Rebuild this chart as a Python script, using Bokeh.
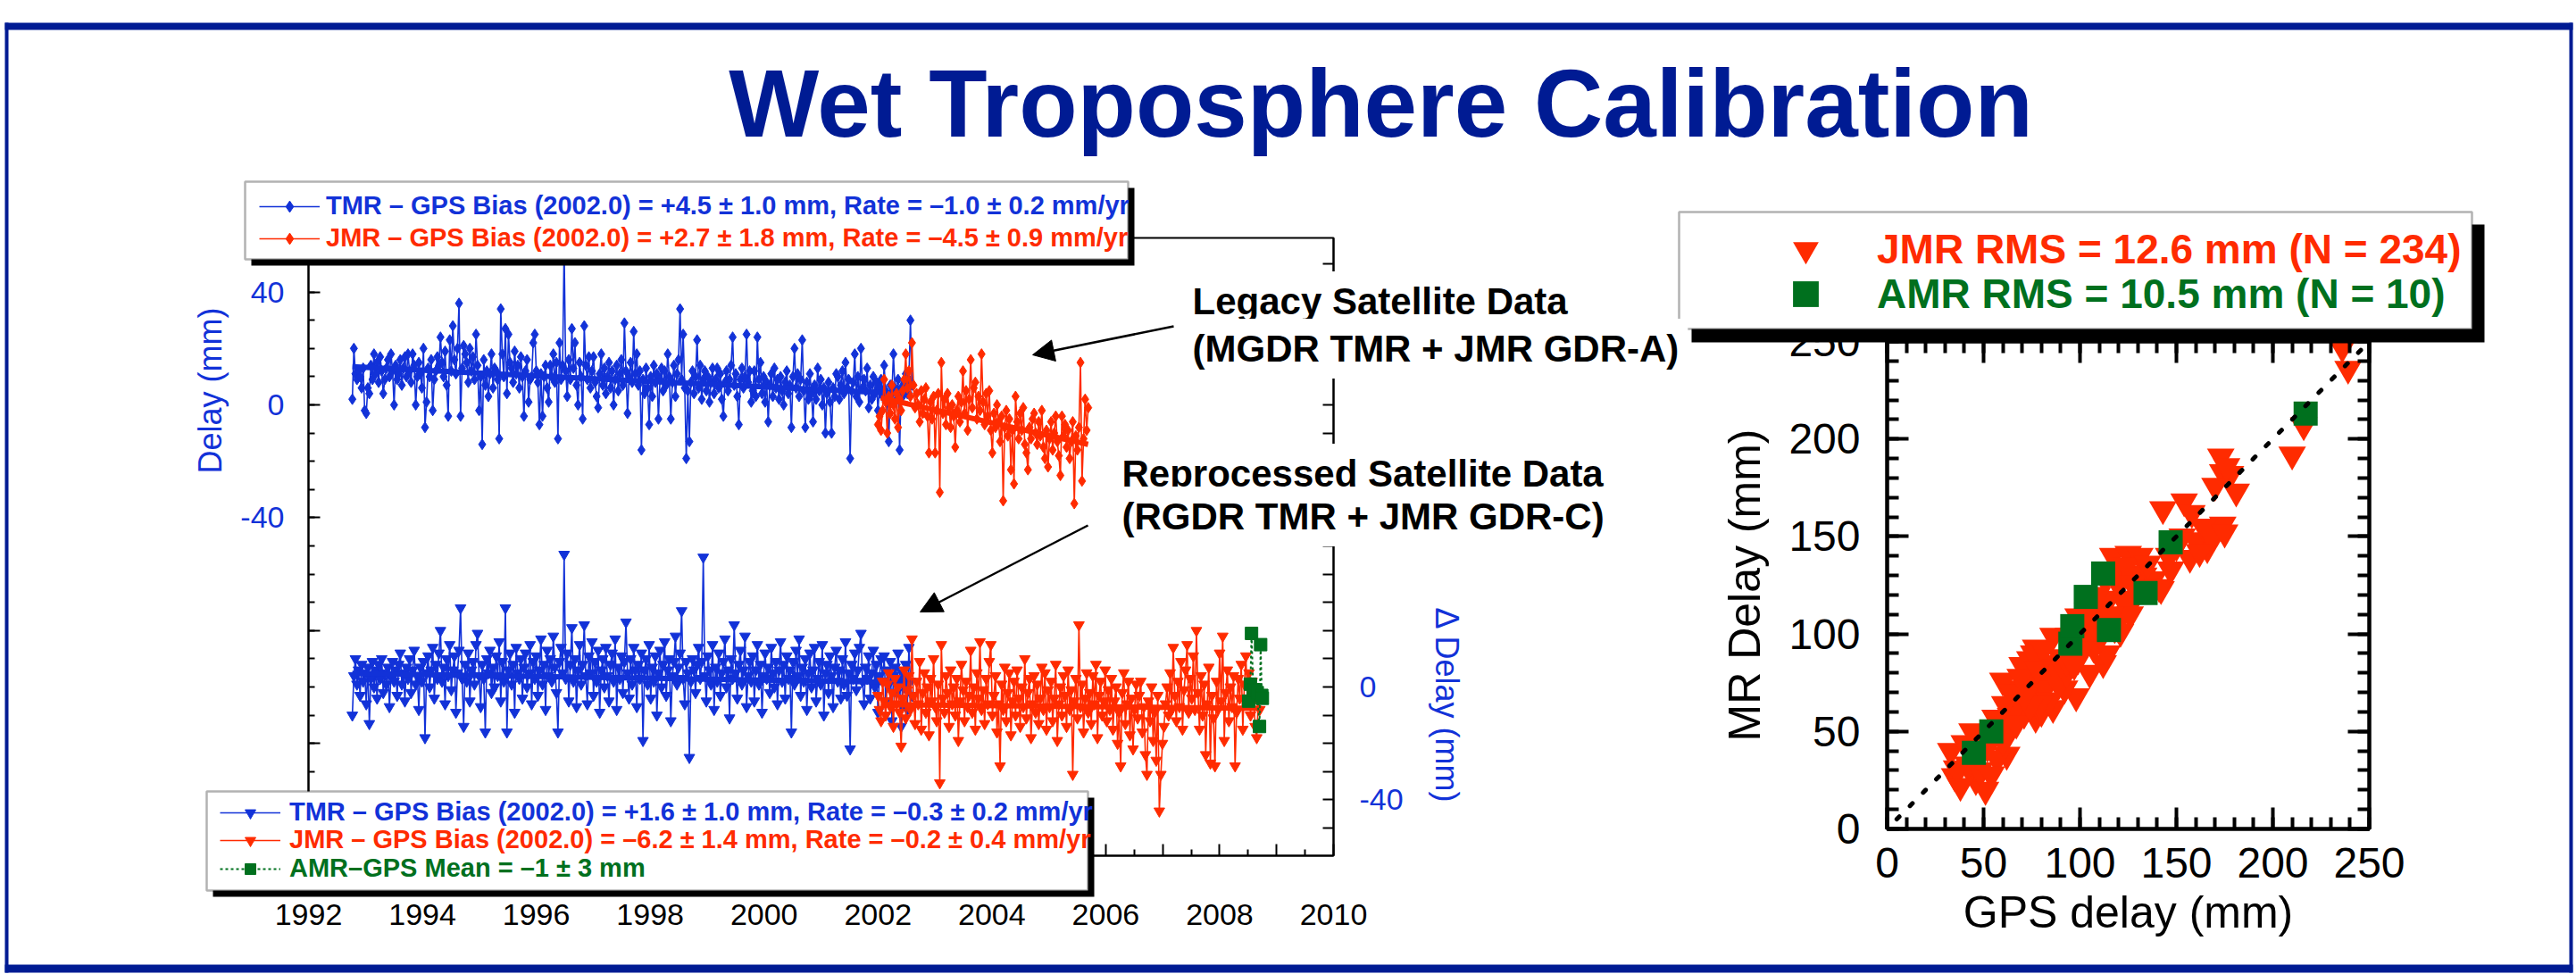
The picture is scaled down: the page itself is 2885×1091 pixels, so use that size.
import math
from bokeh.plotting import figure
from bokeh.models import (Range1d, LinearAxis, FixedTicker, Label, Legend, LegendItem,
                          BoxAnnotation, Arrow, NormalHead, GridBox, Plot)
from bokeh.embed import file_html
from bokeh.resources import INLINE

# ---------------- data ----------------
CYCLE_YR = 9.9156 / 365.25          # altimeter repeat cycle, in years
TMR_START = 1992.77
JMR_START = 2002.0

# TMR - GPS, legacy data (mm)
tmr_up = [2, 20, 11, 9, 12, 10, 6, 13, -2, -3, 6, 4, 14, 9, 18, 11, 15, 8, 17, 12, 4, 9, 13, 16, 10, 18, 12, 0, 14, 9, 11, 16, 7, 13, 17, 10, 18,
          12, 8, 18, 14, 0, 10, 15, 11, 6, 20, -8, 1, 13, 10, 16, -2, 9, 12, 17, 14, 24, 15, 10, 19, 7, -4, 23, 12, 28, 16, 11, 20, 36, -4, 13, 21, 18,
          15, 8, 20, 12, 17, 9, 25, 14, -2, 10, -14, 16, 7, 12, 3, 11, 18, 6, 13, 12, 9, -12, 34, 18, 10, 27, 4, 25, 15, 13, 8, 19, 11, 14, 6, 17, 10,
          -4, 12, 16, 1, 9, 10, 22, 25, 12, 8, -7, 11, -4, 10, 14, 6, 1, 14, 10, 18, 8, 15, -12, 22, 9, 14, 56, 12, 3, 16, 9, 27, 13, 22, 7, 0, 15,
          10, -5, 28, 14, 9, 17, 6, 12, 17, 8, 3, -1, 11, 18, 7, 13, 4, 10, 15, 6, 12, 0, 9, 14, 5, 11, 16, 7, 29, 12, -3, 10, 15, 8, 26, 11, 18,
          7, 12, -16, 9, 4, 13, 6, -7, 10, 3, 14, 8, 11, -5, 9, 13, 5, 12, 7, 18, 10, -5, 8, 14, 3, 11, 16, 34, 9, 25, 6, -19, 5, -13, 8, 12, 4,
          10, 23, 6, 14, 2, 9, 12, 5, 10, 1, 8, 13, 4, 9, 13, 6, 11, 2, -4, 8, 12, 5, 9, 14, 24, 7, 11, 3, -7, 9, 13, 6, 10, 25, 8, 12, 1,
          5, 12, 3, 24, 9, 15, 4, 10, 1, 8, -6, 7, 11, 3, 13, 6, 9, 2, 10, 5, 0, 8, 12, 4, 7, -8, 10, 20, 6, 11, 3, 9, 23, 5, -8, 8, 2,
          11, 4, -6, 7, 2, 13, 5, 9, 0, 6, -10, 4, 8, 1, -10, 6, 3, 11, 10, 2, 7, 12, 4, 15, 6, 9, -19, 5, 8, 18, 3, 10, 1, 20, 6, 9,
          5, 13, -1, 7, 2, 10, 4, 8, -2, 6, 9, 3, 14, 5, 1, -13, 7, 4, 18, 6, 2, 9, -16, 6, 3, 8, 11, 4, 9, 30, 7]

# JMR - GPS, legacy data (mm)
jmr_up = [-7, -4, -9, -2, 9, 1, -10, 3, -3, 7, 0, -5, 4, -8, 2, -2, 5, 9, 18, 6,
          12, 3, 22, 7, -1, 4, 0, -6, 5, -3, 2, 6, -4, -17, 1, -5, 3, -17, -2, 4,
          -31, 15, -3, 2, -7, 4, -1, -8, 0, -4, -15, -2, 3, -6, 1, 12, -3, 5, -9, 2,
          16, -1, 6, 8, -5, 3, -2, 18, 1, -7, 4, -4, 5, -9, -17, -3, -8, 0, -6, -13,
          -4, -34, -8, -2, -11, -5, -23, -9, -28, 3, -6, -12, -3, -9, -1, -14, -17, -23, -8, -12,
          -5, -3, -10, -14, -6, -11, -2, -15, -19, -9, -22, -12, -6, -16, -10, -4, -13, -18, -25, -4,
          -11, -7, -15, -9, -19, -13, -6, -35, -11, -16, -8, 15, -27, -12, 2, -9, -1]

# TMR - GPS, reprocessed data (mm, right axis)
tmr_lo = [-10, 4, 10, 1, 6, -3, 8, 2, 5, -6, 7, -13, 3, 9, 0, 6, -4, 8, 3, 10, -2, 5, 1, 7, -7, 4, 9, 2, 6, -3, 8, 12, 1, 5, -5, 7, 3,
          10, -2, 6, 13, 1, 4, -8, 7, 2, 9, -18, 5, 11, 0, 6, 14, -4, 8, 3, 12, 20, 2, 7, -6, 10, 4, 15, -1, 6, 11, -9, 5, 13, 28, 3, -14, 8,
          2, 12, -5, 6, 9, 1, 15, 19, 4, -7, 8, 3, -16, 10, 5, 13, -2, 7, 0, 11, 4, 16, -5, 9, 2, 28, -16, 6, 12, 1, 8, -9, 14, 5, 3, 10, -4,
          7, 12, 0, 5, 15, -6, 9, 3, 11, -3, 6, 17, 1, 8, -8, 13, 4, 10, 2, 18, 7, -2, -16, 9, 14, 5, 47, 3, 12, -5, 8, 21, 2, 10, -7, 6, 15,
          1, 8, 22, 4, -6, 11, 5, 16, -3, 9, 2, 13, -9, 6, 10, 0, 14, 4, -5, 8, 12, 2, 17, -8, 7, 3, 11, -2, 9, 23, 5, -4, 10, 1, 14, 6, -7,
          8, 3, 12, -19, 6, 10, 1, 15, -4, 7, 2, 11, -10, 5, 13, 0, 8, 16, -3, 6, 10, -12, 4, 9, 18, 1, 7, 12, 27, 3, -6, 9, 5, -25, 2, 10, 6,
          -2, 8, 14, 3, 9, 46, 4, -5, 11, 6, 1, 15, -8, 7, 2, 12, -3, 5, 9, 17, 0, 6, -11, 10, 3, 22, 5, -4, 8, 13, 1, 6, 18, -7, 4, 9, 2,
          11, -5, 6, 15, 1, 8, -9, 4, 12, 3, 7, -2, 14, 5, 0, 9, -6, 6, 16, 2, 8, -4, 11, 3, 6, -16, 9, 1, 13, 4, 17, -3, 7, 2, 10, -8, 5,
          12, 0, 6, 14, -5, 3, 9, 1, 15, -10, 5, 8, -2, 11, 4, -7, 7, 13, 2, 6, -4, 10, 1, 16, -3, 5, -22, 8, 3, 12, -1, 6, 14, 19, 2, -6,
          7, 3, 11, -4, 5, 13, 0, 8, -9, 4, 10, 2, 11, -5, 6, 1, 9, -12, 4, 7, -2, 12, 3, -14, 5, 0, 8, -8, 14, 2, -3]

# JMR - GPS, reprocessed data (mm, right axis)
jmr_lo = [-3, -8, -12, 2, -5, -10, 1, 5, -7, -2, -14, 3, -6, 0, -9, -21, -4, 6, -11, -1, 4, -8, 17, -3, -13, 2, -6, 9, -15, -2, 5, -9, 0, -17, 3, -5, 10,
          -7, -12, 1, -34, 15, -4, -9, 4, -2, -14, 6, -6, 0, -10, 3, -19, -5, 8, -1, -12, 2, -7, -3, 13, -9, 0, -15, 5, -4, 16, -8, -1, -13, 3, -6, 9, 15,
          -10, -3, 4, -16, -6, -28, 1, -8, 7, -12, -2, 5, -17, -5, 2, -10, 6, -4, -14, 0, -7, 10, -11, -2, 3, -18, -6, 4, -9, 1, -13, -4, 7, -8, 5, -15, -1,
          -7, 2, -12, -4, 8, -19, -6, 0, -10, 4, -3, -14, 6, -8, -1, -31, -5, 3, -11, 22, -7, 1, -16, -4, 5, -9, -2, -13, 4, -6, 8, -18, -3, 2, -10, -5, 6,
          -12, -1, -8, 3, -15, -5, 0, -20, -9, -28, -2, 5, -13, -6, 2, -17, -4, -22, -8, 1, -11, -3, 2, -16, -7, -24, -31, -5, -12, 0, -19, -9, -26, -3, -44, -31, -20,
          -14, -6, 0, -10, 5, -8, 14, -3, -12, 2, -7, 9, -15, -1, 6, 15, -9, 3, -4, 11, -8, 20, -2, -15, 4, -10, 1, -24, -6, 7, -27, -3, -11, -28, 2, -8, 12,
          -5, 18, -19, -2, 6, -12, 0, -7, 4, -28, -9, 3, -4, 8, -15, 1, 11, -6, 5, -10, 2, -3, -14, -18, -5, -8]

# AMR - GPS (mm, right axis)
amr_x = [2008.51, 2008.54, 2008.56, 2008.59, 2008.62, 2008.66, 2008.70, 2008.72, 2008.74, 2008.75]
amr_d = [-5, 1, 19, -1, -1, -2, -14, 15, -3, -4]

# fitted trend lines (end points)
tmr_up_trend_x = [1992.77, 2002.60]
tmr_up_trend_y = [13.5, 3.8]
jmr_up_trend_x = [2002.05, 2005.69]
jmr_up_trend_y = [2.5, -14.0]
tmr_lo_trend_x = [1992.77, 2002.55]
tmr_lo_trend_y = [4.8, 1.6]
jmr_lo_trend_x = [2002.05, 2008.74]
jmr_lo_trend_y = [-6.2, -7.6]

# scatter: MR delay vs GPS delay (mm)
jmr_gps = [35, 33, 46, 51, 62, 63, 56, 42, 38, 40,
           48, 44, 52, 57, 36, 60, 54, 47, 58, 50,
           63, 77, 71, 80, 86, 98, 92, 85, 74, 77,
           86, 66, 60, 80, 73, 68, 72, 78, 82, 75,
           70, 65, 83, 88, 90, 84, 79, 69, 76, 81,
           87, 64, 67, 61, 89, 93, 95, 74, 71, 78,
           99, 112, 114, 105, 118, 120, 128, 99, 93, 105,
           117, 125, 131, 128, 134, 142, 110, 108, 102, 115,
           120, 123, 126, 130, 107, 111, 96, 100, 104, 113,
           119, 116, 124, 133, 138, 101, 97, 94, 109, 121,
           127, 135, 143, 154, 158, 171, 174, 166, 157, 153,
           147, 141, 146, 150, 160, 164, 168, 175, 162, 173,
           174, 181, 178, 170, 176, 210, 216, 236, 239]
jmr_mr = [27, 40, 25, 20, 38, 49, 57, 33, 22, 44,
          30, 50, 42, 36, 31, 45, 28, 38, 52, 46,
          72, 57, 59, 60, 62, 68, 72, 80, 87, 93,
          99, 62, 76, 77, 69, 66, 74, 70, 72, 80,
          84, 70, 85, 78, 88, 66, 64, 78, 90, 92,
          83, 58, 54, 64, 74, 80, 86, 63, 68, 82,
          87, 85, 90, 97, 103, 109, 118, 109, 86, 80,
          140, 141, 140, 131, 124, 123, 112, 105, 100, 118,
          125, 116, 110, 122, 93, 99, 96, 104, 112, 128,
          132, 110, 135, 130, 128, 92, 84, 99, 120, 101,
          126, 136, 164, 168, 162, 153, 156, 144, 139, 150,
          133, 124, 140, 145, 148, 155, 150, 152, 142, 191,
          183, 173, 182, 176, 186, 192, 207, 247, 236]
amr_gps = [45, 54, 95, 96, 103, 112, 115, 134, 147, 217]
amr_mr = [39, 50, 95, 104, 119, 131, 102, 121, 147, 213]
one_to_one = [5, 246]

year_ticks = list(range(1992, 2011))

tmr_x = [TMR_START + i * CYCLE_YR for i in range(len(tmr_up))]
tmr_lo_x = [TMR_START + i * CYCLE_YR for i in range(len(tmr_lo))]
jmr_up_x = [JMR_START + i * CYCLE_YR for i in range(len(jmr_up))]
jmr_lo_x = [JMR_START + i * CYCLE_YR for i in range(len(jmr_lo))]

# ---------------- style ----------------
BLUE = "#1232d8"
RED = "#ff2b00"
GREEN = "#00701e"
NAVY = "#001b93"
FONT = "Liberation Sans"
W, H = 2885, 1091

FA = {"frame_align": False} if "frame_align" in Plot.properties() else {}
LABEL_HAS_PADDING = "padding" in Label.properties()

# ================= time-series chart (bottom layer) =================
FL, FR, FT, FB = 345, 1493, 266, 958
PX_PER_MM = 3.16
v_top = (453 - FT) / PX_PER_MM
v_bot = (453 - FB) / PX_PER_MM

lp = figure(width=W, height=H, x_range=Range1d(1992, 2010), y_range=Range1d(v_bot, v_top),
            toolbar_location=None, output_backend="svg",
            min_border_left=FL, min_border_right=W - FR,
            min_border_top=FT, min_border_bottom=H - FB,
            border_fill_color=None, background_fill_color="white", **FA)
lp.grid.visible = False
lp.outline_line_color = "black"
lp.outline_line_width = 2
lp.extra_y_ranges = {"delta": Range1d(v_bot + 100, v_top + 100)}

xa = lp.xaxis[0]
xa.ticker = FixedTicker(ticks=year_ticks, minor_ticks=[y + 0.5 for y in year_ticks[:-1]])
xa.major_label_overrides = {y: ("" if y % 2 else str(y)) for y in year_ticks}
xa.major_label_text_font = FONT
xa.major_label_text_font_size = "34px"
xa.major_label_text_color = "black"
xa.major_label_standoff = 54
xa.major_tick_in, xa.major_tick_out = 13, 0
xa.minor_tick_in, xa.minor_tick_out = 7, 0
xa.axis_line_width = xa.major_tick_line_width = xa.minor_tick_line_width = 2

ya = lp.yaxis[0]
ya.ticker = FixedTicker(ticks=[-120, -80, -40, 0, 40], minor_ticks=list(range(-150, 60, 10)))
ya.major_label_overrides = {-120: "", -80: "", -40: "-40", 0: "0", 40: "40"}
ya.major_label_text_font = FONT
ya.major_label_text_font_size = "34px"
ya.major_label_text_color = BLUE
ya.major_label_standoff = 27
ya.major_tick_in, ya.major_tick_out = 13, 0
ya.minor_tick_in, ya.minor_tick_out = 7, 0
ya.axis_line_width = ya.major_tick_line_width = ya.minor_tick_line_width = 2

d_ticks = list(range(-50, 160, 10))
ra = LinearAxis(y_range_name="delta", ticker=FixedTicker(ticks=d_ticks, minor_ticks=[]),
                major_label_overrides={t: (str(t) if t in (0, -40) else "") for t in d_ticks},
                major_label_text_font=FONT, major_label_text_font_size="34px",
                major_label_text_color=BLUE, major_label_standoff=29,
                major_tick_in=12, major_tick_out=0, minor_tick_in=0, minor_tick_out=0,
                axis_line_width=2, major_tick_line_width=2)
lp.add_layout(ra, "right")

# upper (legacy) series, left axis
lp.line(tmr_x, tmr_up, line_color=BLUE, line_width=1.6)
lp.scatter(tmr_x, tmr_up, marker="diamond", size=12, fill_color=BLUE, line_color=BLUE)
lp.line(tmr_up_trend_x, tmr_up_trend_y, line_color=BLUE, line_width=6)
lp.line(jmr_up_x, jmr_up, line_color=RED, line_width=1.6)
lp.scatter(jmr_up_x, jmr_up, marker="diamond", size=12, fill_color=RED, line_color=RED)
lp.line(jmr_up_trend_x, jmr_up_trend_y, line_color=RED, line_width=6)

# lower (reprocessed) series, right axis
lp.line(tmr_lo_x, tmr_lo, line_color=BLUE, line_width=1.6, y_range_name="delta")
lp.scatter(tmr_lo_x, tmr_lo, marker="inverted_triangle", size=12, fill_color=BLUE,
           line_color=BLUE, y_range_name="delta")
lp.line(tmr_lo_trend_x, tmr_lo_trend_y, line_color=BLUE, line_width=6, y_range_name="delta")
lp.line(jmr_lo_x, jmr_lo, line_color=RED, line_width=1.6, y_range_name="delta")
lp.scatter(jmr_lo_x, jmr_lo, marker="inverted_triangle", size=12, fill_color=RED,
           line_color=RED, y_range_name="delta")
lp.line(jmr_lo_trend_x, jmr_lo_trend_y, line_color=RED, line_width=6, y_range_name="delta")
lp.line(amr_x, amr_d, line_color=GREEN, line_width=2, line_dash="3 3", y_range_name="delta")
lp.scatter(amr_x, amr_d, marker="square", size=14, fill_color=GREEN, line_color=GREEN,
           y_range_name="delta")

# ================= scatter chart (middle layer) =================
SL, SR, ST, SB = 2113, 2653, 382, 928
rp = figure(width=W, height=H, x_range=Range1d(0, 250), y_range=Range1d(0, 250),
            toolbar_location=None, output_backend="svg",
            min_border_left=SL, min_border_right=W - SR,
            min_border_top=ST, min_border_bottom=H - SB,
            border_fill_color=None, background_fill_color="white", **FA)
rp.grid.visible = False
rp.outline_line_color = "black"
rp.outline_line_width = 4

s_major = [0, 50, 100, 150, 200, 250]
s_minor = list(range(0, 251, 10))


def style_scatter_axis(ax, labels=True):
    ax.ticker = FixedTicker(ticks=s_major, minor_ticks=s_minor)
    ax.major_tick_in, ax.major_tick_out = 24, 0
    ax.minor_tick_in, ax.minor_tick_out = 13, 0
    ax.axis_line_width = ax.major_tick_line_width = ax.minor_tick_line_width = 4
    ax.major_label_text_font = FONT
    ax.major_label_text_font_size = "48px"
    ax.major_label_text_color = "black"
    if not labels:
        ax.major_label_overrides = {t: "" for t in s_major}
        ax.major_label_text_font_size = "0px"
        ax.major_label_standoff = 0


style_scatter_axis(rp.xaxis[0])
rp.xaxis[0].major_label_standoff = 21
rp.xaxis[0].axis_label = "GPS delay (mm)"
rp.xaxis[0].axis_label_standoff = 8
style_scatter_axis(rp.yaxis[0])
rp.yaxis[0].major_label_standoff = 30
rp.yaxis[0].axis_label = "MR Delay (mm)"
rp.yaxis[0].axis_label_standoff = 18
for ax in (rp.xaxis[0], rp.yaxis[0]):
    ax.axis_label_text_font = FONT
    ax.axis_label_text_font_size = "50px"
    ax.axis_label_text_font_style = "normal"
    ax.axis_label_text_color = "black"
for side in ("right", "above"):
    extra = LinearAxis()
    style_scatter_axis(extra, labels=False)
    rp.add_layout(extra, side)

rp.scatter(jmr_gps, jmr_mr, marker="inverted_triangle", size=31, fill_color=RED, line_color=None)
rp.scatter(amr_gps, amr_mr, marker="square", size=27, fill_color=GREEN, line_color=None)
rp.line(one_to_one, one_to_one, line_color="black", line_width=5, line_dash="4 17", line_cap="round")

# ================= overlay: title, frame, legends, notes (top layer) =================
ov = figure(width=W, height=H, x_range=Range1d(0, 1), y_range=Range1d(0, 1),
            toolbar_location=None, output_backend="svg", min_border=0,
            x_axis_location=None, y_axis_location=None,
            border_fill_color=None, background_fill_color=None, **FA)
ov.grid.visible = False
ov.outline_line_color = None


def box(x0, x1, y0, y1, fill, line=None, lw=0):
    ov.add_layout(BoxAnnotation(left=x0, right=x1, top=H - y0, bottom=H - y1,
                                left_units="screen", right_units="screen",
                                top_units="screen", bottom_units="screen",
                                fill_color=fill, fill_alpha=1.0,
                                line_color=line, line_width=lw))


def note(X, Yc, text, size, color="black", bold=False, align="left", bg=None, pad=0, angle=0.0):
    kw = dict(x=X, y=H - Yc, x_units="screen", y_units="screen", text=text,
              text_font=FONT, text_font_size=size, text_color=color,
              text_font_style="bold" if bold else "normal",
              text_align=align, text_baseline="middle", angle=angle)
    if bg is not None:
        kw["background_fill_color"] = bg
        kw["background_fill_alpha"] = 1.0
        if LABEL_HAS_PADDING:
            kw["padding"] = pad
        else:
            kw["x"] = X + pad
    ov.add_layout(Label(**kw))


def legend_row(renderers, label, color, X_glyph, Yc, gw, gh, standoff, size):
    lg = Legend(items=[LegendItem(label=label, renderers=renderers)],
                location=(X_glyph, H - (Yc + gh / 2)),
                orientation="vertical", padding=0, margin=0, spacing=0,
                glyph_width=gw, glyph_height=gh, label_height=gh, label_standoff=standoff,
                label_text_font=FONT, label_text_font_style="bold",
                label_text_font_size=size, label_text_color=color,
                background_fill_alpha=0, border_line_color=None,
                inactive_fill_alpha=0)
    ov.add_layout(lg)


# legend sample glyphs (hidden copies of the series styling)
k_tu_l = ov.line(tmr_x, tmr_up, line_color=BLUE, line_width=1.6, visible=False)
k_tu_p = ov.scatter(tmr_x, tmr_up, marker="diamond", size=12, fill_color=BLUE, line_color=BLUE, visible=False)
k_ju_l = ov.line(jmr_up_x, jmr_up, line_color=RED, line_width=1.6, visible=False)
k_ju_p = ov.scatter(jmr_up_x, jmr_up, marker="diamond", size=12, fill_color=RED, line_color=RED, visible=False)
k_tl_l = ov.line(tmr_lo_x, tmr_lo, line_color=BLUE, line_width=1.6, visible=False)
k_tl_p = ov.scatter(tmr_lo_x, tmr_lo, marker="inverted_triangle", size=12, fill_color=BLUE, line_color=BLUE, visible=False)
k_jl_l = ov.line(jmr_lo_x, jmr_lo, line_color=RED, line_width=1.6, visible=False)
k_jl_p = ov.scatter(jmr_lo_x, jmr_lo, marker="inverted_triangle", size=12, fill_color=RED, line_color=RED, visible=False)
k_am_l = ov.line(amr_x, amr_d, line_color=GREEN, line_width=2, line_dash="3 3", visible=False)
k_am_p = ov.scatter(amr_x, amr_d, marker="square", size=14, fill_color=GREEN, line_color=GREEN, visible=False)
k_sj = ov.scatter(jmr_gps, jmr_mr, marker="inverted_triangle", size=31, fill_color=RED, line_color=None, visible=False)
k_sa = ov.scatter(amr_gps, amr_mr, marker="square", size=27, fill_color=GREEN, line_color=None, visible=False)

# page frame and title
box(5, 2881, 25, 33, NAVY)
box(5, 9, 25, 1089, NAVY)
box(2877, 2881, 25, 1089, NAVY)
box(5, 2881, 1080, 1089, NAVY)
note(1546, 115, "Wet Troposphere Calibration", "107px", NAVY, bold=True, align="center")

# axis titles of the time-series chart
note(235, 437, "Delay (mm)", "36px", BLUE, align="center", angle=math.pi / 2)
note(1620, 790, "\u0394 Delay (mm)", "36px", BLUE, align="center", angle=-math.pi / 2)

# top legend (legacy data)
box(281, 1270, 210, 297, "black")
box(274, 1263, 203, 290, "white", "black", 2.5)
legend_row([k_tu_l, k_tu_p],
           "TMR \u2013 GPS Bias (2002.0) = +4.5 \u00b1 1.0 mm, Rate = \u20131.0 \u00b1 0.2 mm/yr",
           BLUE, 290, 231, 68, 32, 7, "29px")
legend_row([k_ju_l, k_ju_p],
           "JMR \u2013 GPS Bias (2002.0) = +2.7 \u00b1 1.8 mm, Rate = \u20134.5 \u00b1 0.9 mm/yr",
           RED, 290, 267, 68, 32, 7, "29px")

# bottom legend (reprocessed data)
box(238, 1225, 893, 1004, "black")
box(231, 1218, 886, 997, "white", "black", 2.5)
legend_row([k_tl_l, k_tl_p],
           "TMR \u2013 GPS Bias (2002.0) = +1.6 \u00b1 1.0 mm, Rate = \u20130.3 \u00b1 0.2 mm/yr",
           BLUE, 246, 911, 68, 30, 10, "29px")
legend_row([k_jl_l, k_jl_p],
           "JMR \u2013 GPS Bias (2002.0) = \u20136.2 \u00b1 1.4 mm, Rate = \u20130.2 \u00b1 0.4 mm/yr",
           RED, 246, 942, 68, 30, 10, "29px")
legend_row([k_am_l, k_am_p], "AMR\u2013GPS Mean = \u20131 \u00b1 3 mm",
           GREEN, 246, 974, 68, 30, 10, "29px")

# scatter legend
box(1894, 2782, 251, 383, "black")
box(1880, 2768, 237, 368, "white", "black", 2.5)
legend_row([k_sj], "JMR RMS = 12.6 mm (N = 234)", RED, 1972, 279, 100, 72, 30, "46px")
legend_row([k_sa], "AMR RMS = 10.5 mm (N = 10)", GREEN, 1972, 329, 100, 72, 30, "46px")

# annotations with arrows
PAD = 10
note(1335 - PAD, 337, "Legacy Satellite Data", "42px", bold=True, bg="white", pad=PAD)
note(1335 - PAD, 390, "(MGDR TMR + JMR GDR-A)", "42px", bold=True, bg="white", pad=PAD)
note(1256 - PAD, 530, "Reprocessed Satellite Data", "42px", bold=True, bg="white", pad=PAD)
note(1256 - PAD, 578, "(RGDR TMR + JMR GDR-C)", "42px", bold=True, bg="white", pad=PAD)

for (x0, y0, x1, y1) in [(1314, 365, 1156, 397), (1218, 588, 1030, 685)]:
    ov.add_layout(Arrow(end=NormalHead(size=24, fill_color="black", line_color="black"),
                        x_start=x0, y_start=H - y0, x_end=x1, y_end=H - y1,
                        start_units="screen", end_units="screen",
                        line_color="black", line_width=2.5))

layout = GridBox(children=[(lp, 0, 0), (rp, 0, 0), (ov, 0, 0)])
open("out.html", "w").write(file_html(layout, INLINE))
